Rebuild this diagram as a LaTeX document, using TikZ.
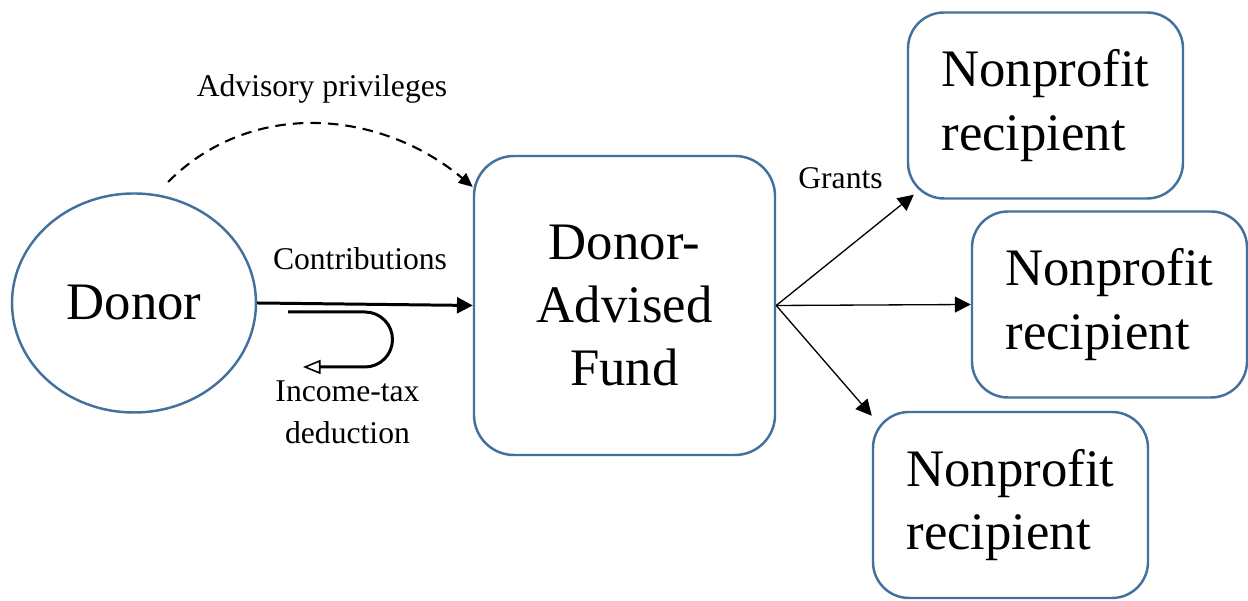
\documentclass[tikz,border=0pt]{standalone}
\usepackage{fontspec}
\setmainfont{Liberation Serif}
\usetikzlibrary{shapes.geometric,arrows.meta}
\definecolor{fundblue}{HTML}{41719C}

\begin{document}
\begin{tikzpicture}[
    bigtext/.style={font=\fontsize{30}{36}\selectfont},
    smalltext/.style={font=\fontsize{18}{24}\selectfont},
    recipient/.style={draw=fundblue,line width=1.4pt,rounded corners=0.72cm,minimum width=5.5cm,minimum height=3.72cm,align=left,bigtext},
    grant/.style={line width=0.75pt,-{Triangle[length=9pt,width=9pt]}}
]
    % Fix canvas size
    \useasboundingbox (0,0) rectangle (24.96,12.02);
    % Draw donor
    \node[ellipse,draw=fundblue,line width=1.4pt,minimum width=4.88cm,minimum height=4.38cm,inner sep=0,bigtext] (donor) at (2.68,5.96) {Donor};
    % Draw fund
    \node[draw=fundblue,line width=1.4pt,rounded corners=0.8cm,minimum width=6.02cm,minimum height=5.98cm,align=center,bigtext] (fund) at (12.49,5.91) {Donor-\\Advised\\Fund};
    % Draw recipients
    \node[recipient] (npa) at (20.91,9.91) {Nonprofit\\recipient};
    \node[recipient] (npb) at (22.19,5.93) {Nonprofit\\recipient};
    \node[recipient] (npc) at (20.21,1.92) {Nonprofit\\recipient};
    % Draw advisory privileges arrow
    \coordinate (advstart) at (3.36,8.38);
    \draw[line width=1.2pt,dash pattern=on 6pt off 4pt,-{Triangle[length=8pt,width=7pt]}] (advstart) to[out=45,in=140] (fund.142.5);
    \node[smalltext,anchor=base] (advlabel) at (6.44,10.08) {Advisory privileges};
    % Draw contributions arrow
    \draw[line width=1.7pt,-{Triangle[length=9pt,width=9pt]}] (donor.east) -- (fund.west);
    \node[smalltext,anchor=base] (contlabel) at (7.2,6.62) {Contributions};
    % Draw tax deduction arrow
    \coordinate (taxstart) at (5.76,5.78);
    \coordinate (taxend) at (6.06,4.68);
    \draw[line width=1.7pt,-{Triangle[open,line width=0.9pt,length=10pt,width=8pt]}] (taxstart) -- ++(1.54,0) arc[start angle=90,end angle=-90,radius=0.55] -- (taxend);
    \node[smalltext,align=center] (taxlabel) at (6.95,3.77) {Income-tax\\deduction};
    % Draw grants
    \draw[grant] (fund.east) -- ([shift={(0.14,0.1)}]npa.south west);
    \draw[grant] (fund.east) -- (npb.west);
    \draw[grant] (fund.east) -- ([yshift=-0.1cm]npc.north west);
    \node[smalltext,anchor=base] (grantlabel) at (16.81,8.24) {Grants};
\end{tikzpicture}
\end{document}
